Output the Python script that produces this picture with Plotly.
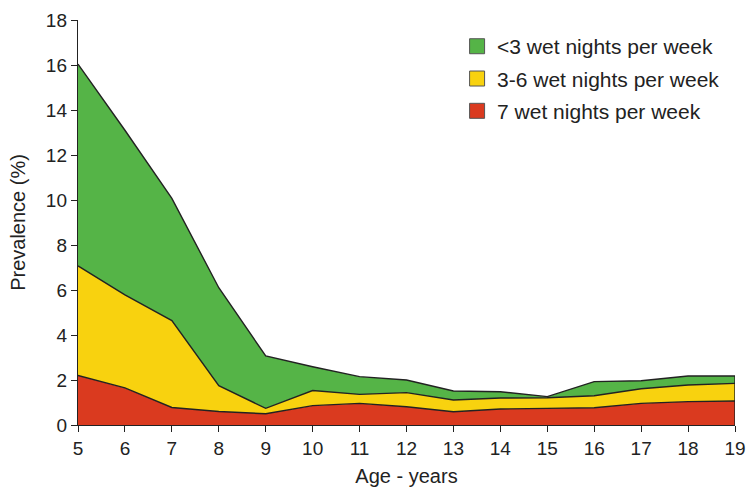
import plotly.graph_objects as go

ages = [5, 6, 7, 8, 9, 10, 11, 12, 13, 14, 15, 16, 17, 18, 19]
seven_nights = [2.2, 1.65, 0.78, 0.6, 0.5, 0.86, 0.96, 0.81, 0.59, 0.71, 0.74, 0.77, 0.96, 1.04, 1.07]
three_six_nights = [4.87, 4.13, 3.86, 1.15, 0.24, 0.67, 0.40, 0.63, 0.52, 0.49, 0.47, 0.53, 0.65, 0.74, 0.78]
under_three_nights = [8.97, 7.32, 5.43, 4.35, 2.33, 1.06, 0.79, 0.56, 0.40, 0.28, 0.05, 0.63, 0.36, 0.40, 0.33]
y_ticks = [0, 2, 4, 6, 8, 10, 12, 14, 16, 18]

series = [
    ("7 wet nights per week", seven_nights, "#DA3A1F", 3),
    ("3-6 wet nights per week", three_six_nights, "#F8D20F", 2),
    ("<3 wet nights per week", under_three_nights, "#55B447", 1),
]
edge = "#222222"

fig = go.Figure()
for name, vals, color, rank in series:
    fig.add_trace(go.Scatter(
        x=ages, y=vals, name=name, mode="lines",
        stackgroup="one", fillcolor=color,
        line=dict(color=edge, width=1.4),
        showlegend=False, hoverinfo="x+y+name",
    ))
    # legend-only square swatch
    fig.add_trace(go.Scatter(
        x=[None], y=[None], name=name, mode="markers",
        marker=dict(symbol="square", size=15, color=color, line=dict(color="#555", width=1)),
        legendgroup=name, legendrank=rank, showlegend=True,
    ))

# closing edge of the stacked area at the last age
total_last = seven_nights[-1] + three_six_nights[-1] + under_three_nights[-1]
fig.add_trace(go.Scatter(
    x=[ages[-1], ages[-1]], y=[0, total_last], mode="lines",
    line=dict(color=edge, width=1.4), showlegend=False, hoverinfo="skip",
))

font_fam = "Liberation Sans, Arial, sans-serif"
fig.update_layout(
    width=746, height=492,
    margin=dict(l=78, r=11, t=20, b=67),
    paper_bgcolor="white", plot_bgcolor="white",
    font=dict(family=font_fam, size=19, color="#222222"),
    showlegend=True,
    legend=dict(
        x=0.577, y=0.985, xanchor="left", yanchor="top",
        bgcolor="rgba(0,0,0,0)", tracegroupgap=2,
        font=dict(size=21, color="#222222"),
        itemwidth=30,
    ),
    xaxis=dict(
        range=[5, 19], tickmode="array", tickvals=ages,
        ticks="outside", ticklen=6, tickwidth=1.4, tickcolor=edge,
        showline=True, linecolor=edge, linewidth=1.4,
        showgrid=False, zeroline=False, automargin=False,
        tickfont=dict(size=19),
        title=dict(text="Age - years", font=dict(size=20), standoff=10),
    ),
    yaxis=dict(
        range=[0, 18], tickmode="array", tickvals=y_ticks,
        ticks="outside", ticklen=6, tickwidth=1.4, tickcolor=edge,
        showline=True, linecolor=edge, linewidth=1.4,
        showgrid=False, zeroline=False, automargin=False,
        tickfont=dict(size=19),
        title=dict(text="Prevalence (%)", font=dict(size=20), standoff=14),
    ),
)

# remove the default 8px page margin so the 746x492 figure fills the window
fig.write_html(
    "out.html",
    config={"displayModeBar": False},
    post_script="document.body.style.margin='0';document.body.style.overflow='hidden';",
)
